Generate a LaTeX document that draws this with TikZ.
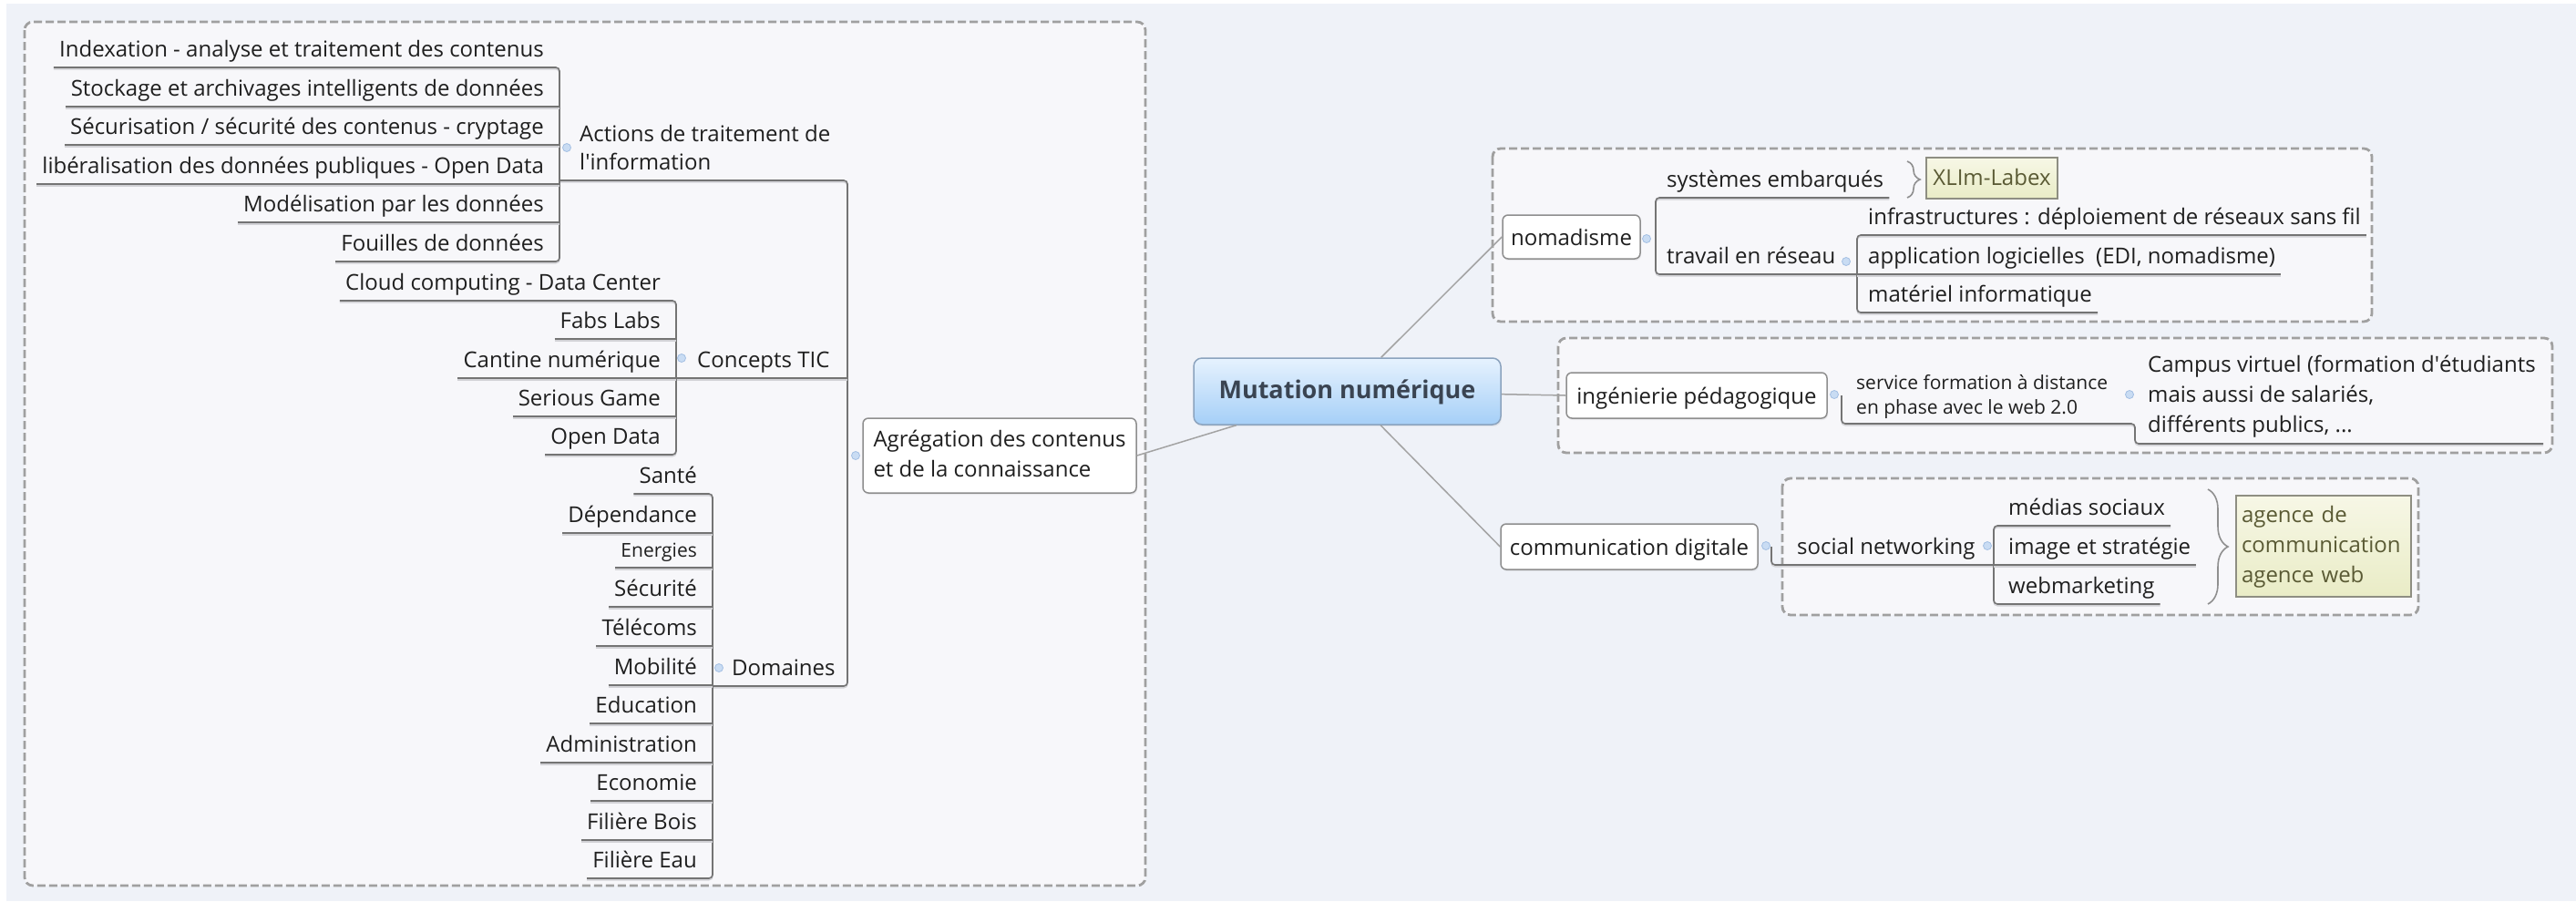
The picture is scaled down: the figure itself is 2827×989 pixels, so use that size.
\documentclass[tikz,border=0pt]{standalone}
\usepackage{fontspec}
\setmainfont{Open Sans}
\usetikzlibrary{decorations.pathreplacing,shadows}

\definecolor{bgcol}{HTML}{EFF2F8}
\definecolor{zonefill}{HTML}{F7F7FA}
\definecolor{zoneline}{HTML}{A0A0A0}
\definecolor{ulcol}{HTML}{747474}
\definecolor{ulshadow}{HTML}{D2D2D6}
\definecolor{conncol}{HTML}{A3A3A3}
\definecolor{boxline}{HTML}{8E8E8E}
\definecolor{txt}{HTML}{1F1F1F}
\definecolor{roottxt}{HTML}{3A4452}
\definecolor{roottop}{HTML}{E6F2FE}
\definecolor{rootbot}{HTML}{A5CFF7}
\definecolor{rootline}{HTML}{8BA3BE}
\definecolor{notetop}{HTML}{F7F7E6}
\definecolor{notebot}{HTML}{E9ECC6}
\definecolor{noteline}{HTML}{8E8E82}
\definecolor{notetxt}{HTML}{5A5A34}
\definecolor{markfill}{HTML}{C9DCF3}
\definecolor{markline}{HTML}{A3BFE3}
\definecolor{bracecol}{HTML}{8F8F8F}

\newcommand\topicfont{\fontsize{24}{33}\selectfont}
\newcommand\smalltopicfont{\fontsize{21}{27}\selectfont}
\newcommand\rootfont{\fontsize{27}{30}\selectfont\bfseries}
\newcommand\firstline{\rule{0pt}{19pt}}
\newcommand\firstsmall{\rule{0pt}{17pt}}
\newcommand\lastline{\rule[-6pt]{0pt}{6pt}}

\begin{document}
\begin{tikzpicture}[x=1pt,y=-1pt,
  zone/.style={draw=zoneline, fill=zonefill, line width=2.8pt, dash pattern=on 9pt off 4pt, rounded corners=9pt},
  ul/.style={preaction={draw=ulshadow, line width=1.6pt, transform canvas={yshift=-1.7pt}}, draw=ulcol, line width=1.6pt},
  bar/.style={ul, rounded corners=4pt},
  conn/.style={draw=conncol, line width=1.5pt},
  tp/.style={font=\topicfont, text=txt, inner xsep=6pt, inner ysep=5pt, text height=18pt, text depth=6pt},
  lt/.style={tp, anchor=south east},
  rt/.style={tp, anchor=south west},
  smalllt/.style={lt, font=\smalltopicfont, text height=16pt, text depth=5pt, inner ysep=6pt},
  multi/.style={font=\topicfont, text=txt, align=left, inner sep=0pt, anchor=north west},
  softshadow/.style={drop shadow={opacity=0.12, shadow xshift=1pt, shadow yshift=-2pt}},
  box/.style={draw=boxline, line width=1.5pt, fill=white, rounded corners=6pt, softshadow, font=\topicfont, text=txt, text height=21pt, text depth=3pt, inner sep=0pt},
  root/.style={draw=rootline, line width=1.5pt, top color=roottop, bottom color=rootbot, rounded corners=9pt, softshadow, font=\rootfont, text=roottxt, minimum width=337pt, minimum height=73pt, inner sep=0pt, text height=21pt, text depth=5pt},
  note/.style={draw=noteline, line width=1.3pt, top color=notetop, bottom color=notebot, font=\topicfont, text=notetxt, inner sep=0pt},
  marker/.style={circle, draw=markline, fill=markfill, line width=0.8pt, minimum size=9pt, inner sep=0pt},
  curly/.style={draw=bracecol, line width=1.6pt, decorate, decoration={brace, amplitude=#1}},
]
% canvas
\useasboundingbox (0,0) rectangle (2827,989);
\fill[bgcol] (0,0) rectangle (2827,989);
\fill[white] (0,0) rectangle (7,989);
\fill[white] (0,0) rectangle (2827,4);

% dashed boundaries
\draw[zone] (27,24) rectangle (1257,972);
\draw[zone] (1638,163) rectangle (2603,353);
\draw[zone] (1710,371) rectangle (2801,497);
\draw[zone] (1956,525) rectangle (2654,675);

% branch bars
\coordinate (actbar) at (614,0);
\coordinate (ticbar) at (742,0);
\coordinate (dombar) at (782,0);
\coordinate (agrbar) at (930,0);
\coordinate (actul) at (0,198);
\coordinate (nombar) at (1817,0);
\coordinate (trbar) at (2038,0);
\coordinate (ingbar) at (2021,0);
\coordinate (sfdbar) at (2343,0);
\coordinate (sfdul) at (0,465);
\coordinate (cvul) at (0,487);
\coordinate (cvend) at (2791,487);
\coordinate (combar) at (1944,0);
\coordinate (snbar) at (2188,0);

% central topic
\node[root] (mut) at (1478.5,429.5) {Mutation numérique};

% left branch
\node[draw=boxline, line width=1.5pt, fill=white, rounded corners=6pt, softshadow, font=\topicfont, text=txt,
      minimum width=300pt, minimum height=82pt, inner xsep=8pt, inner ysep=0pt, align=left]
      (agr) at (1097,500) {\firstline Agrégation des contenus\\et de la connaissance\lastline};

\node[multi, font=\fontsize{24}{31}\selectfont] (act) at (636,136) {\firstline Actions de traitement de\\l\textquotesingle information};
\node[rt] (tic) at (759,415) {Concepts TIC};
\node[rt] (dom) at (797,753) {Domaines};

\node[lt] (i1) at (603,74) {Indexation - analyse et traitement des contenus};
\node[lt] (i2) at (603,117) {Stockage et archivages intelligents de données};
\node[lt] (i3) at (603,159) {Sécurisation / sécurité des contenus - cryptage};
\node[lt] (i4) at (603,202) {libéralisation des données publiques - Open Data};
\node[lt] (i5) at (603,244) {Modélisation par les données};
\node[lt] (i6) at (603,287) {Fouilles de données};

\node[lt] (c1) at (731,330) {Cloud computing - Data Center};
\node[lt] (c2) at (731,372) {Fabs Labs};
\node[lt] (c3) at (731,415) {Cantine numérique};
\node[lt] (c4) at (731,457) {Serious Game};
\node[lt] (c5) at (731,499) {Open Data};

\node[lt] (d1) at (771,542) {Santé};
\node[lt] (d2) at (771,585) {Dépendance};
\node[smalllt] (d3) at (771,623) {Energies};
\node[lt] (d4) at (771,666) {Sécurité};
\node[lt] (d5) at (771,709) {Télécoms};
\node[lt] (d6) at (771,752) {Mobilité};
\node[lt] (d7) at (771,794) {Education};
\node[lt] (d8) at (771,837) {Administration};
\node[lt] (d9) at (771,879) {Economie};
\node[lt] (d10) at (771,922) {Filière Bois};
\node[lt] (d11) at (771,964) {Filière Eau};

% right branches
\node[box, minimum width=151pt, minimum height=48pt] (nom) at (1724.5,260) {nomadisme};
\node[rt] (se) at (1823,217) {systèmes embarqués};
\node[rt] (tr) at (1823,301) {travail en réseau};
\node[rt] (inf) at (2044,258) {infrastructures : déploiement de réseaux sans fil};
\node[rt] (app) at (2044,301) {application logicielles\ \ (EDI, nomadisme)};
\node[rt] (mat) at (2044,343) {matériel informatique};
\node[note, minimum width=144pt, minimum height=45pt, text height=20pt, text depth=4pt] (xl) at (2186,195.5) {XLIm-Labex};

\node[box, minimum width=286pt, minimum height=50pt] (ing) at (1862,434) {ingénierie pédagogique};
\node[multi, font=\smalltopicfont] (sfd) at (2037,410) {\firstsmall service formation à distance\\en phase avec le web 2.0};
\node[multi] (cv) at (2357,389) {\firstline Campus virtuel (formation d\textquotesingle étudiants\\mais aussi de salariés,\\différents publics, ...};

\node[box, minimum width=282pt, minimum height=50pt] (com) at (1788,600) {communication digitale};
\node[rt] (sn) at (1966,620) {social networking};
\node[rt] (ms) at (2198,577) {médias sociaux};
\node[rt] (is) at (2198,620) {image et stratégie};
\node[rt] (wm) at (2198,663) {webmarketing};
\node[note, minimum width=192pt, minimum height=111pt, align=left, text width=180pt] (ag) at (2550,599.5)
      {\firstline agence de\\communication\\agence web\lastline};

% connectors from the central topic
\draw[conn] (mut) -- (agr.east);
\draw[conn] (mut) -- (nom.west);
\draw[conn] (mut) -- (ing.west);
\draw[conn] (mut) -- (com.west);

% left side: aggregation tree
\draw[bar] (actbar |- actul) -- (agrbar |- actul) -- (agrbar |- dom.south) -- (dombar |- dom.south);
\draw[ul] (ticbar |- tic.south) -- (agrbar |- tic.south);

\draw[bar] (i1.south west) -- (i1.south west -| actbar) -- (i6.south west -| actbar) -- (i6.south west);
\foreach \n in {i2,i3,i4,i5} \draw[ul] (\n.south west) -- (\n.south west -| actbar);

\draw[bar] (c1.south west) -- (c1.south west -| ticbar) -- (c5.south west -| ticbar) -- (c5.south west);
\foreach \n in {c2,c3,c4} \draw[ul] (\n.south west) -- (\n.south west -| ticbar);

\draw[bar] (d1.south west) -- (d1.south west -| dombar) -- (d11.south west -| dombar) -- (d11.south west);
\foreach \n in {d2,d3,d4,d5,d6,d7,d8,d9,d10} \draw[ul] (\n.south west) -- (\n.south west -| dombar);

% right side: nomadisme
\draw[bar] (se.south east) -- (se.south -| nombar) -- (tr.south -| nombar) -- (tr.south -| trbar);
\draw[bar] (inf.south east) -- (inf.south -| trbar) -- (mat.south -| trbar) -- (mat.south east);
\draw[ul] (app.south -| trbar) -- (app.south east);
\draw[curly=14pt] (2093,177) -- (2093,217);

% right side: pedagogy
\draw[bar] (ingbar |- ing.east) -- (ingbar |- sfdul) -- (sfdbar |- sfdul) -- (sfdbar |- cvul) -- (cvend);

% right side: digital communication
\draw[bar] (combar |- com.east) -- (combar |- sn.south) -- (snbar |- sn.south);
\draw[bar] (ms.south east) -- (ms.south -| snbar) -- (wm.south -| snbar) -- (wm.south east);
\draw[ul] (is.south -| snbar) -- (is.south east);
\draw[curly=22pt] (2423,537) -- (2423,663);

% collapse markers
\node[marker] (mk1) at (622,162) {};
\node[marker] (mk2) at (748,393) {};
\node[marker] (mk3) at (789,733) {};
\node[marker] (mk4) at (939,500) {};
\node[marker] (mk5) at (1807,262) {};
\node[marker] (mk6) at (2026,287) {};
\node[marker] (mk7) at (2013,433) {};
\node[marker] (mk8) at (2337,433) {};
\node[marker] (mk9) at (1938,599) {};
\node[marker] (mk10) at (2181,599) {};
\end{tikzpicture}
\end{document}
